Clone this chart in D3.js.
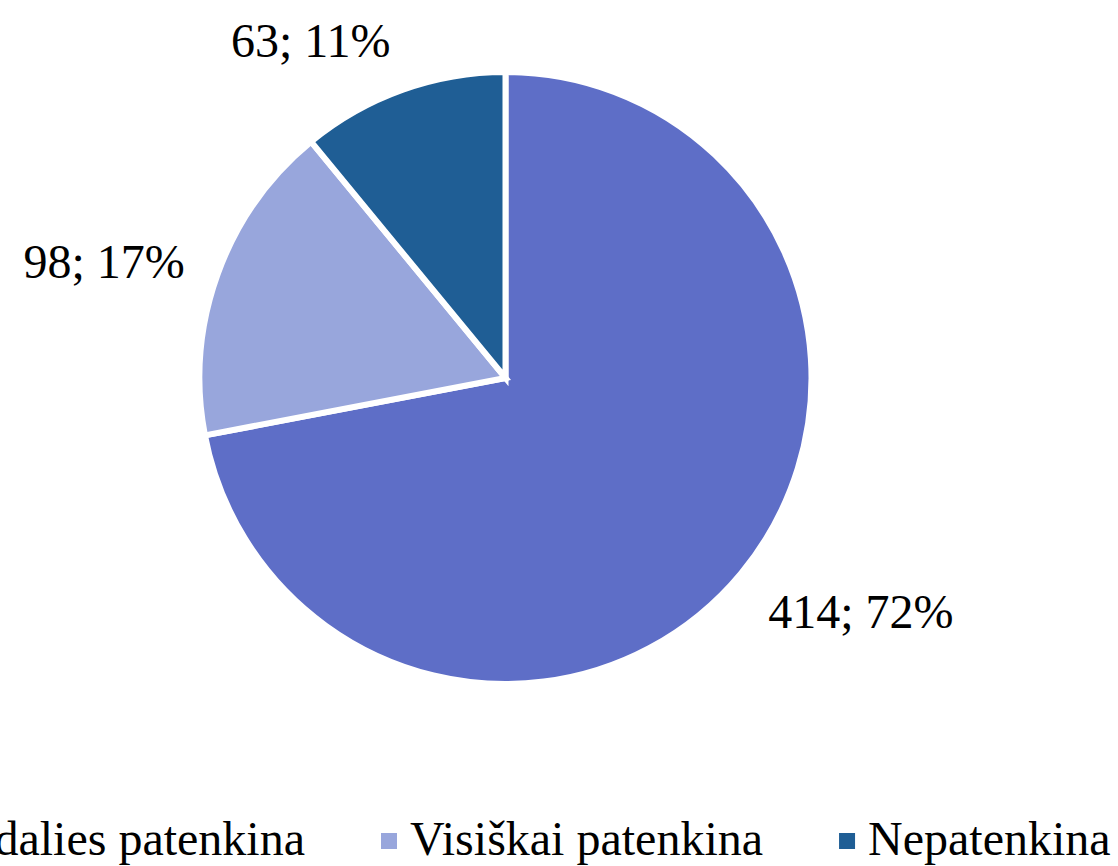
<!DOCTYPE html>
<html><head><meta charset="utf-8">
<script src="https://cdn.jsdelivr.net/npm/d3@7"></script>
<style>html,body{margin:0;padding:0;background:#fff;overflow:hidden}</style>
</head><body>
<svg id="chart" width="1118" height="866"></svg>
<script>
const categories = ["Iš dalies patenkina", "Visiškai patenkina", "Nepatenkina"];
const values = [414, 98, 63];
const percents = [72, 17, 11];
const colors = ["#5E6EC7", "#98A6DC", "#1F5E95"];

const svg = d3.select("#chart");
const W = 1118, H = 866;
const cx = 505.5, cy = 378, r = 306;
const fontFamily = "'Liberation Serif','Times New Roman',serif";
const fontSize = 48;

const pie = d3.pie().sort(null).value(d => d.v);
const data = categories.map((c, i) => ({c, v: values[i], p: percents[i], col: colors[i]}));
const arcs = pie(data);
const arc = d3.arc().innerRadius(0).outerRadius(r);

const g = svg.append("g").attr("transform", `translate(${cx},${cy})`);
g.selectAll("path").data(arcs).join("path")
  .attr("d", arc)
  .attr("fill", d => d.data.col)
  .attr("stroke", "#fff")
  .attr("stroke-width", 6)
  .attr("stroke-linejoin", "miter");

// outside-end labels
const gap = 35;
arcs.forEach(a => {
  const mid = (a.startAngle + a.endAngle) / 2;
  const dx = Math.sin(mid), dy = -Math.cos(mid);
  const px = (r + gap) * dx, py = (r + gap) * dy;
  const t = g.append("text")
    .attr("font-family", fontFamily)
    .attr("font-size", fontSize)
    .attr("fill", "#000")
    .text(`${a.data.v}; ${a.data.p}%`);
  const bb = t.node().getBBox();
  const w = bb.width, h = fontSize * 0.68;
  const fx = Math.abs(dx) > 0.3 ? Math.sign(dx) : 0;
  const fy = Math.abs(dy) > 0.5 ? Math.sign(dy) : 0;
  const left = px - w / 2 + fx * w / 2;
  const midY = py + fy * h / 2;
  t.attr("x", left).attr("y", midY + h / 2);
});

// legend
const leg = svg.append("g");
const items = data.map(d => {
  const t = leg.append("text")
    .attr("font-family", fontFamily)
    .attr("font-size", fontSize)
    .attr("fill", "#000")
    .attr("y", 855)
    .text(d.c);
  return {d, t, w: t.node().getComputedTextLength()};
});
const mk = 16, mkGap = 13, itemGap = 76;
// anchor: second item's marker at x=381
let positions = [];
let x2 = 381;
positions[1] = x2;
positions[0] = x2 - itemGap - items[0].w - mkGap - mk;
positions[2] = x2 + mk + mkGap + items[1].w + itemGap;
items.forEach((it, i) => {
  const x = positions[i];
  leg.append("rect").attr("x", x).attr("y", 833).attr("width", mk).attr("height", mk)
    .attr("fill", it.d.col);
  it.t.attr("x", x + mk + mkGap);
});
</script>
</body></html>
